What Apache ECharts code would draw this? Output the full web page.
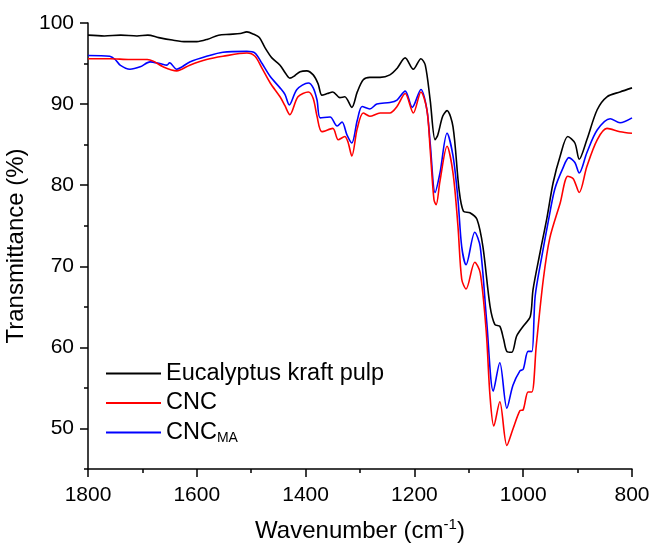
<!DOCTYPE html>
<html>
<head>
<meta charset="utf-8">
<script src="https://cdn.jsdelivr.net/npm/echarts@6/dist/echarts.min.js"></script>
<style>
html,body{margin:0;padding:0;background:#fff;}
#chart{width:651px;height:547px;}
</style>
</head>
<body>
<div id="chart"></div>
<script>
// ---- data (wavenumber, transmittance) ----
const seriesNames = ['Eucalyptus kraft pulp', 'CNC', 'CNC_MA'];
const seriesColors = ['#000000', '#ff0000', '#0000ff'];

const pulpWn = [1800,1770,1740,1710,1690,1670,1645,1620,1600,1580,1560,1540,1520,1508,1495,1485,1475,1462,1447,1437,1429,1420,1410,1398,1386,1377,1370,1360,1350,1337,1328,1315,1305,1294,1282,1263,1245,1232,1217,1202,1188,1180,1171,1162,1157,1148,1140,1129,1118,1110,1098,1085,1074,1061,1052,1043,1036,1030,1021,1012,1000,987,982,969,956,945,932,918,905,897,883,864,846,822,800];
const pulpT  = [98.5,98.4,98.5,98.4,98.5,98.2,97.9,97.7,97.7,98.0,98.5,98.6,98.7,98.9,98.6,98.2,97.0,95.7,94.8,93.8,93.2,93.5,94.0,94.1,93.6,92.5,91.1,91.3,91.5,90.8,90.9,89.6,91.5,93.0,93.3,93.3,93.6,94.4,95.7,94.3,95.6,94.8,90.5,85.6,86.2,88.5,89.2,87.2,79.5,76.8,76.6,75.8,72.4,65.1,62.8,62.6,61.0,59.5,59.4,61.4,62.6,63.8,67.1,71.7,76.1,80.3,83.6,86.0,85.2,83.2,85.6,89.3,90.9,91.5,92.0];

const cncWn = [1800,1760,1723,1691,1680,1662,1637,1613,1582,1552,1508,1493,1480,1465,1447,1438,1429,1414,1395,1386,1379,1370,1350,1340,1328,1322,1315,1305,1294,1282,1263,1245,1232,1217,1202,1188,1177,1171,1164,1160,1153,1140,1129,1120,1113,1105,1089,1079,1068,1061,1054,1043,1030,1019,1006,1000,991,984,976,963,951,932,918,908,897,883,864,846,822,800];
const cncT  = [95.6,95.6,95.5,95.5,95.3,94.6,94.1,94.8,95.5,95.9,96.3,95.9,94.4,92.6,90.9,89.8,88.7,90.9,91.5,90.7,88.5,86.6,87.0,85.6,86.0,85.3,83.6,87.0,88.9,88.5,88.9,88.9,89.7,91.3,88.9,91.5,89.3,84.4,78.2,77.6,80.5,84.8,81.5,75.0,68.4,67.2,70.5,69.2,62.0,54.0,50.3,53.3,47.9,49.9,52.2,52.3,54.5,54.5,60.2,68.4,73.5,77.8,81.1,80.8,79.1,82.3,85.6,87.0,86.6,86.4];

const maWn = [1800,1760,1750,1741,1723,1704,1686,1668,1655,1650,1637,1613,1582,1552,1508,1493,1480,1465,1447,1438,1430,1416,1395,1386,1379,1373,1355,1342,1333,1324,1315,1305,1296,1282,1269,1245,1232,1217,1204,1188,1177,1171,1162,1153,1140,1129,1120,1113,1105,1089,1079,1067,1055,1043,1030,1019,1006,1000,991,984,978,965,954,942,927,916,905,897,883,864,840,822,800];
const maT  = [96.0,95.9,95.5,94.8,94.3,94.6,95.2,95.0,94.8,95.1,94.3,95.2,95.9,96.4,96.5,96.3,95.0,93.4,92.0,91.2,89.9,91.8,92.6,92.0,90.5,88.3,88.4,87.3,87.8,86.2,85.2,88.0,89.7,89.4,90.0,90.2,90.5,91.6,89.6,91.8,89.3,85.2,79.1,81.5,86.4,83.6,78.3,72.4,70.2,74.2,72.4,63.1,54.6,58.1,52.5,55.3,57.1,57.3,59.5,59.5,66.3,71.5,75.5,79.5,82.1,83.4,82.8,81.5,84.0,86.8,88.2,87.7,88.3];

const xTickValues = [1800,1600,1400,1200,1000,800];
const yTickValues = [50,60,70,80,90,100];
const yMinorTickValues = [45,55,65,75,85,95];

// ---- chart ----
const FONT = '"Liberation Sans", Arial, sans-serif';
const zip = (a, b) => a.map((v, i) => [v, b[i]]);
const dataSets = [zip(pulpWn, pulpT), zip(cncWn, cncT), zip(maWn, maT)];

const chart = echarts.init(document.getElementById('chart'), null, {renderer: 'canvas'});
const option = {
  backgroundColor: '#ffffff',
  animation: false,
  grid: {left: 88, right: 19, top: 23, bottom: 78, containLabel: false, outerBoundsMode: 'none'},
  legend: {
    left: 101, top: 356, orient: 'vertical',
    itemWidth: 55, itemHeight: 2, itemGap: 4.5,
    icon: 'path://M0,0H55V2H0Z',
    data: seriesNames,
    textStyle: {
      fontFamily: FONT, fontSize: 23.5, color: '#000', lineHeight: 25,
      rich: {
        a: {fontFamily: FONT, fontSize: 23.5, color: '#000', lineHeight: 25},
        s: {fontFamily: FONT, fontSize: 14, color: '#000', lineHeight: 4, verticalAlign: 'bottom'}
      }
    },
    formatter: function (n) {
      if (n === 'CNC_MA') return '{a|CNC}{s|MA}';
      return '{a|' + n + '}';
    }
  },
  xAxis: {
    type: 'value', inverse: true, min: 800, max: 1800, interval: 200,
    name: '{a|Wavenumber (cm}{sup|-1}{a|)}',
    nameLocation: 'middle', nameGap: 48,
    nameTextStyle: {
      fontFamily: FONT, fontSize: 24, color: '#000',
      rich: {
        a: {fontFamily: FONT, fontSize: 24, color: '#000', lineHeight: 28},
        sup: {fontFamily: FONT, fontSize: 15, color: '#000', lineHeight: 28, verticalAlign: 'top', padding: [0, 0, 13, 0]}
      }
    },
    axisLine: {show: true, onZero: false, lineStyle: {color: '#000', width: 1.5}},
    axisTick: {show: true, length: 8, lineStyle: {color: '#000', width: 1.5}, customValues: xTickValues},
    minorTick: {show: true, splitNumber: 2, length: 4, lineStyle: {color: '#000', width: 1.5}},
    axisLabel: {fontFamily: FONT, fontSize: 21, color: '#000', margin: 16, customValues: xTickValues,
      formatter: function (v) { return String(v); }},
    splitLine: {show: false},
    minorSplitLine: {show: false}
  },
  yAxis: [{
    type: 'value', min: 45, max: 100,
    name: 'Transmittance (%)', nameLocation: 'middle', nameGap: 50, nameRotate: 90,
    nameTextStyle: {fontFamily: FONT, fontSize: 24, color: '#000'},
    axisLine: {show: true, onZero: false, lineStyle: {color: '#000', width: 1.5}},
    axisTick: {show: true, length: 8, lineStyle: {color: '#000', width: 1.5}, customValues: yTickValues},
    axisLabel: {fontFamily: FONT, fontSize: 21, color: '#000', margin: 14, customValues: yTickValues,
      formatter: function (v) { return String(v); }},
    splitLine: {show: false}
  }, {
    type: 'value', min: 45, max: 100, position: 'left',
    axisLine: {show: false},
    axisTick: {show: true, length: 4, lineStyle: {color: '#000', width: 1.5}, customValues: yMinorTickValues},
    axisLabel: {show: false},
    splitLine: {show: false}
  }],
  series: seriesNames.map((n, i) => ({
    name: n, type: 'line', yAxisIndex: 0,
    data: dataSets[i],
    showSymbol: false, symbol: 'none',
    smooth: 0.3,
    color: seriesColors[i],
    lineStyle: {color: seriesColors[i], width: 1.6},
    itemStyle: {color: seriesColors[i]},
    z: 3 - i
  }))
};
chart.setOption(option);
</script>
</body>
</html>
